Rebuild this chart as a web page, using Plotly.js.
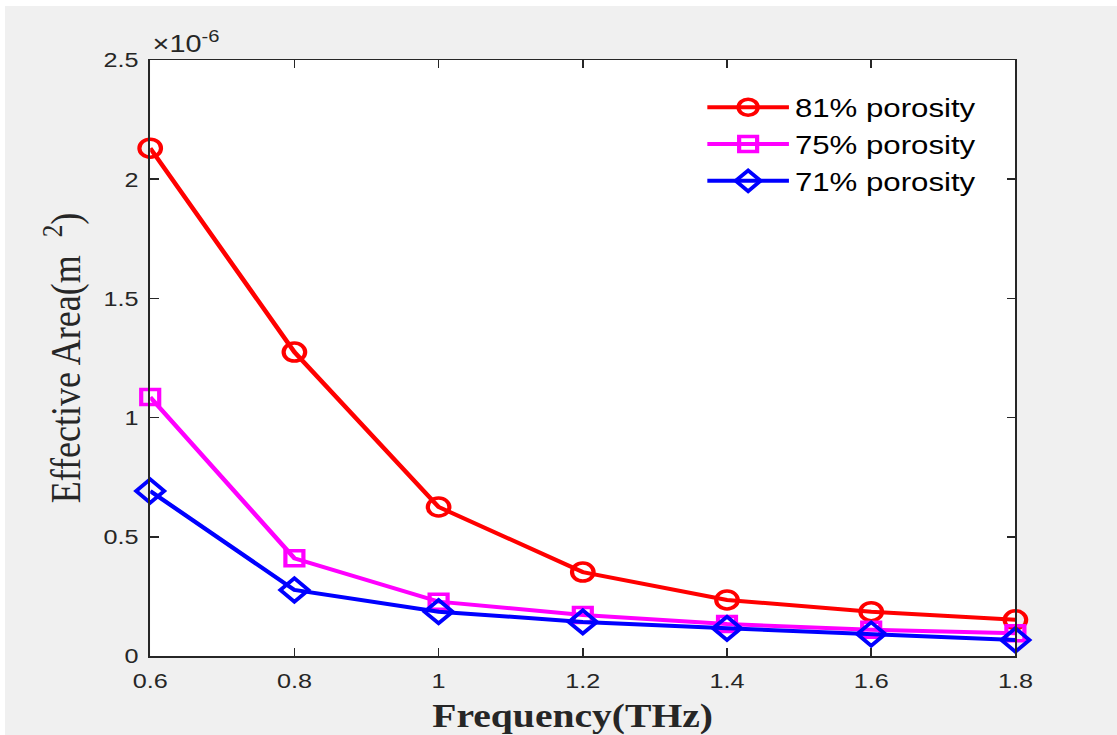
<!DOCTYPE html>
<html>
<head>
<meta charset="utf-8">
<script src="https://cdn.plot.ly/plotly-3.0.1.min.js"></script>
<style>
  html, body { margin: 0; padding: 0; background: #ffffff; width: 1117px; height: 735px; overflow: hidden; }
  #chart { position: absolute; left: 5px; top: 6px; width: 927px; height: 729px;
           transform: scaleX(1.2); transform-origin: 0 0; }
</style>
</head>
<body>
<div id="chart"></div>
<script>
// Frequency (THz)
const frequency = [0.6, 0.8, 1.0, 1.2, 1.4, 1.6, 1.8];
// Effective area, in units of 1e-6 m^2
const porosity81 = [2.13, 1.275, 0.625, 0.352, 0.235, 0.186, 0.152];
const porosity75 = [1.086, 0.41, 0.228, 0.172, 0.134, 0.11, 0.095];
const porosity71 = [0.692, 0.277, 0.186, 0.143, 0.116, 0.092, 0.067];
const seriesNames = ['81% porosity', '75% porosity', '71% porosity'];
const xTicks = [0.6, 0.8, 1.0, 1.2, 1.4, 1.6, 1.8];
const xTickLabels = ['0.6', '0.8', '1', '1.2', '1.4', '1.6', '1.8'];
const yTicks = [0, 0.5, 1, 1.5, 2, 2.5];
const yTickLabels = ['0', '0.5', '1', '1.5', '2', '2.5'];
const xTitle = 'Frequency(THz)';
const yTitle = 'Effective Area(m\u00a0\u00a0<sup>2</sup>)';
const exponentLabel = '\u00d710<sup>-6</sup>';

const axisColor = '#262626';
function trace(y, name, color, symbol, size) {
  return {
    x: frequency, y: y, name: name, type: 'scatter', mode: 'lines+markers',
    line: { color: color, width: 4 },
    marker: { symbol: symbol, size: size, color: color, line: { color: color, width: 3.5 } },
    cliponaxis: false
  };
}
const data = [
  trace(porosity81, seriesNames[0], '#ff0000', 'circle-open', 18),
  trace(porosity75, seriesNames[1], '#ff00ff', 'square-open', 15),
  trace(porosity71, seriesNames[2], '#0000ff', 'diamond-open', 18)
];

const layout = {
  width: 927, height: 729,
  paper_bgcolor: '#f0f0f0', plot_bgcolor: '#ffffff',
  margin: { l: 121, r: 84.5, t: 54, b: 79 },
  showlegend: true,
  legend: {
    x: 0.637, y: 0.96, xanchor: 'left', yanchor: 'top',
    bgcolor: 'rgba(255,255,255,0)', borderwidth: 0,
    font: { family: 'Liberation Sans, Arial, sans-serif', size: 26, color: '#000000' },
    itemwidth: 68, tracegroupgap: 0
  },
  xaxis: {
    range: [0.6, 1.8], tickvals: xTicks, ticktext: xTickLabels,
    showline: true, linecolor: axisColor, linewidth: 1.5, mirror: 'ticks',
    ticks: 'inside', ticklen: 8, tickwidth: 1.5, tickcolor: axisColor,
    showgrid: false, zeroline: false,
    tickfont: { family: 'Liberation Sans, Arial, sans-serif', size: 21, color: axisColor },
    ticklabelstandoff: 5
  },
  yaxis: {
    range: [0, 2.5], tickvals: yTicks, ticktext: yTickLabels,
    showline: true, linecolor: axisColor, linewidth: 1.5, mirror: 'ticks',
    ticks: 'inside', ticklen: 7, tickwidth: 1.5, tickcolor: axisColor,
    showgrid: false, zeroline: false,
    tickfont: { family: 'Liberation Sans, Arial, sans-serif', size: 21, color: axisColor },
    ticklabelstandoff: 4,
    title: { text: yTitle, standoff: 8,
             font: { family: 'Liberation Serif, Times New Roman, serif', size: 36, color: axisColor } }
  },
  annotations: [{
    xref: 'paper', yref: 'paper', x: 0, y: 1, xanchor: 'left', yanchor: 'bottom',
    yshift: 1, showarrow: false,
    text: exponentLabel,
    font: { family: 'Liberation Sans, Arial, sans-serif', size: 24, color: axisColor }
  }, {
    xref: 'paper', yref: 'paper', x: 0.488, y: 0, xanchor: 'center', yanchor: 'middle',
    yshift: -60, showarrow: false,
    text: '<b>' + xTitle + '</b>',
    font: { family: 'Liberation Serif, Times New Roman, serif', size: 33, color: axisColor }
  }]
};

Plotly.newPlot('chart', data, layout, { displayModeBar: false, staticPlot: true });
</script>
</body>
</html>
